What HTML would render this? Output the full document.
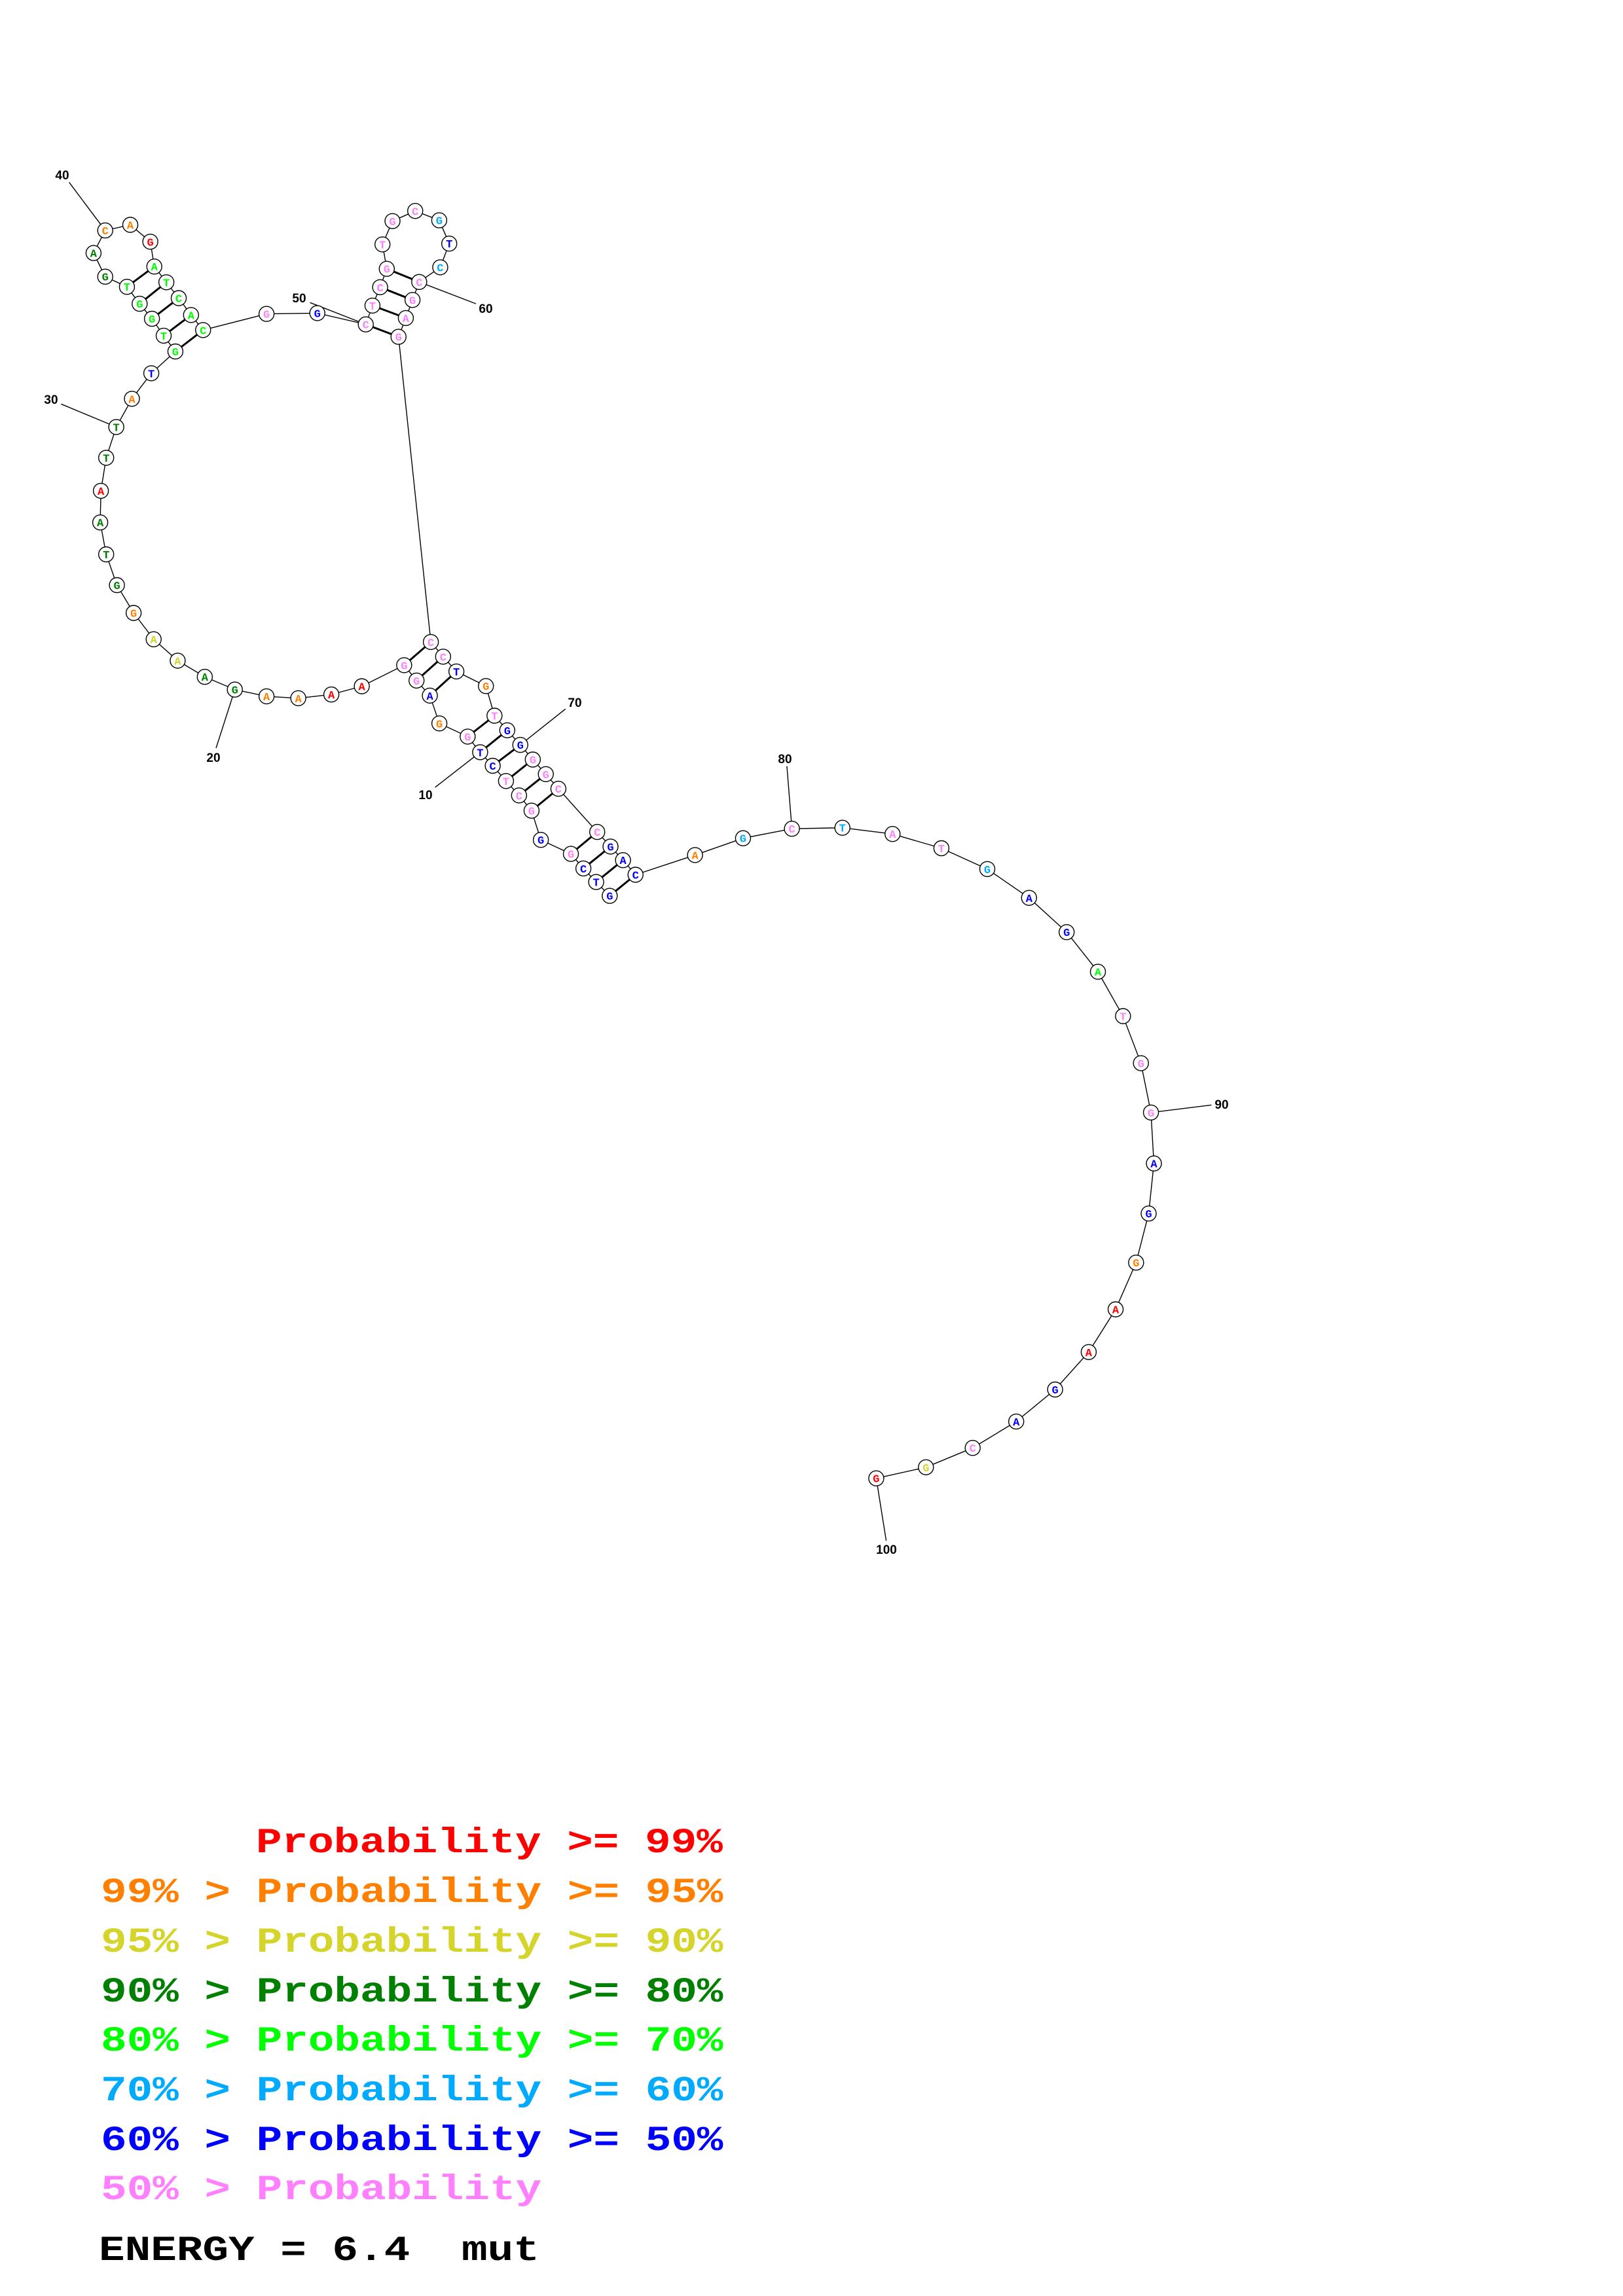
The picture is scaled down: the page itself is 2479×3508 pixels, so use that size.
<!DOCTYPE html>
<html><head><meta charset="utf-8"><style>
html,body{margin:0;padding:0;background:#fff;}
svg{display:block;}
.n{font-family:"Liberation Mono",monospace;font-weight:bold;font-size:17px;text-anchor:middle;}
.l{font-family:"Liberation Sans",sans-serif;font-weight:bold;font-size:19px;text-anchor:middle;fill:#000;}
.g{font-family:"Liberation Mono",monospace;font-weight:bold;font-size:66px;}
.g text{white-space:pre;}
</style></head><body>
<svg width="2479" height="3508" viewBox="0 0 2479 3508" xmlns="http://www.w3.org/2000/svg">
<rect width="2479" height="3508" fill="#fff"/>
<polyline fill="none" stroke="#000" stroke-width="1.4" points="931.3,1368.7 910.6,1347.6 891.1,1326.9 872,1304.6 826.1,1283.2 811.9,1238.6 792.8,1215.3 772.9,1193.3 752.6,1170 733.4,1149.3 714.3,1125.4 671.1,1105.3 656.6,1062.8 636.2,1039.8 617.3,1016.3 552.6,1048.5 506.1,1061.1 455.6,1066.8 407.1,1063.9 358.7,1053.6 312.8,1034.1 271.4,1009.4 234.7,976.7 204.1,936.5 178.6,894 162.2,847 153.1,798.2 154.1,749.9 162.2,699.4 177.6,652.4 201.5,609.3 231.1,570.3 267.9,537 250,512.9 232.1,487 213.3,464.1 193.9,438.2 160.7,422.7 142.9,386.6 160.7,352.1 199,343.5 229.6,369.3 235.7,407.2 254.1,431.3 273,455.5 291.8,481.3 310.2,504.3 407.1,479.6 484.7,478.4 558.7,495.6 568.9,466.9 580.6,438.8 590.8,410.7 584.2,373.4 599.5,337.8 634.2,322.3 670.9,336.6 686.2,372.2 672.4,408.4 640.3,430.8 630.1,458.3 619.9,485.9 608.7,514.6 658.1,980.9 676.8,1003.3 697.1,1025.9 742.2,1048.2 755.3,1093.5 774.8,1115.8 794.7,1138.1 813.8,1160.5 833.7,1182.8 852.9,1205.1 912.2,1271.1 932.5,1293.4 951.6,1314.2 970.7,1336.5 1061.6,1306.4 1134.9,1280.7 1209.6,1266.2 1286.7,1264.7 1363.3,1274.2 1437.9,1296 1508,1327.8 1571.8,1371.8 1629.2,1424.2 1677,1484.7 1715.3,1552.5 1742.7,1624.4 1758,1699.8 1762.5,1777.6 1754.5,1854.1 1735.3,1929.1 1704,2000.5 1662.9,2065.8 1611.6,2123 1552.2,2171.9 1485.7,2212.2 1414.3,2241.8 1338.4,2258.7"/>
<g stroke="#000" stroke-width="3">
<line x1="931.3" y1="1368.7" x2="970.7" y2="1336.5"/>
<line x1="910.6" y1="1347.6" x2="951.6" y2="1314.2"/>
<line x1="891.1" y1="1326.9" x2="932.5" y2="1293.4"/>
<line x1="872" y1="1304.6" x2="912.2" y2="1271.1"/>
<line x1="811.9" y1="1238.6" x2="852.9" y2="1205.1"/>
<line x1="792.8" y1="1215.3" x2="833.7" y2="1182.8"/>
<line x1="772.9" y1="1193.3" x2="813.8" y2="1160.5"/>
<line x1="752.6" y1="1170" x2="794.7" y2="1138.1"/>
<line x1="733.4" y1="1149.3" x2="774.8" y2="1115.8"/>
<line x1="714.3" y1="1125.4" x2="755.3" y2="1093.5"/>
<line x1="656.6" y1="1062.8" x2="697.1" y2="1025.9"/>
<line x1="636.2" y1="1039.8" x2="676.8" y2="1003.3"/>
<line x1="617.3" y1="1016.3" x2="658.1" y2="980.9"/>
<line x1="267.9" y1="537" x2="310.2" y2="504.3"/>
<line x1="250" y1="512.9" x2="291.8" y2="481.3"/>
<line x1="232.1" y1="487" x2="273" y2="455.5"/>
<line x1="213.3" y1="464.1" x2="254.1" y2="431.3"/>
<line x1="193.9" y1="438.2" x2="235.7" y2="407.2"/>
<line x1="558.7" y1="495.6" x2="608.7" y2="514.6"/>
<line x1="568.9" y1="466.9" x2="619.9" y2="485.9"/>
<line x1="580.6" y1="438.8" x2="630.1" y2="458.3"/>
<line x1="590.8" y1="410.7" x2="640.3" y2="430.8"/>
</g>
<g stroke="#000" stroke-width="1.4">
<line x1="733.4" y1="1149.3" x2="664.6" y2="1202.9"/>
<line x1="358.7" y1="1053.6" x2="330" y2="1143"/>
<line x1="177.6" y1="652.4" x2="93.4" y2="617.3"/>
<line x1="160.7" y1="352.1" x2="105.6" y2="278.6"/>
<line x1="558.7" y1="495.6" x2="473.5" y2="462.3"/>
<line x1="640.3" y1="430.8" x2="727" y2="464.1"/>
<line x1="794.7" y1="1138.1" x2="863.6" y2="1083.3"/>
<line x1="1209.6" y1="1266.2" x2="1201.9" y2="1170.5"/>
<line x1="1758" y1="1699.8" x2="1850.4" y2="1688.3"/>
<line x1="1338.4" y1="2258.7" x2="1353.6" y2="2354"/>
</g>
<g class="l">
<text x="650" y="1221">10</text>
<text x="326" y="1164">20</text>
<text x="78" y="617">30</text>
<text x="95" y="274">40</text>
<text x="457" y="462">50</text>
<text x="742" y="478">60</text>
<text x="878" y="1080">70</text>
<text x="1199" y="1166">80</text>
<text x="1866" y="1694">90</text>
<text x="1354" y="2374">100</text>
</g>
<g stroke="#000" stroke-width="1.4" fill="#fff">
<circle cx="931.3" cy="1368.7" r="11.5"/><circle cx="910.6" cy="1347.6" r="11.5"/><circle cx="891.1" cy="1326.9" r="11.5"/><circle cx="872" cy="1304.6" r="11.5"/><circle cx="826.1" cy="1283.2" r="11.5"/><circle cx="811.9" cy="1238.6" r="11.5"/><circle cx="792.8" cy="1215.3" r="11.5"/><circle cx="772.9" cy="1193.3" r="11.5"/><circle cx="752.6" cy="1170" r="11.5"/><circle cx="733.4" cy="1149.3" r="11.5"/>
<circle cx="714.3" cy="1125.4" r="11.5"/><circle cx="671.1" cy="1105.3" r="11.5"/><circle cx="656.6" cy="1062.8" r="11.5"/><circle cx="636.2" cy="1039.8" r="11.5"/><circle cx="617.3" cy="1016.3" r="11.5"/><circle cx="552.6" cy="1048.5" r="11.5"/><circle cx="506.1" cy="1061.1" r="11.5"/><circle cx="455.6" cy="1066.8" r="11.5"/><circle cx="407.1" cy="1063.9" r="11.5"/><circle cx="358.7" cy="1053.6" r="11.5"/>
<circle cx="312.8" cy="1034.1" r="11.5"/><circle cx="271.4" cy="1009.4" r="11.5"/><circle cx="234.7" cy="976.7" r="11.5"/><circle cx="204.1" cy="936.5" r="11.5"/><circle cx="178.6" cy="894" r="11.5"/><circle cx="162.2" cy="847" r="11.5"/><circle cx="153.1" cy="798.2" r="11.5"/><circle cx="154.1" cy="749.9" r="11.5"/><circle cx="162.2" cy="699.4" r="11.5"/><circle cx="177.6" cy="652.4" r="11.5"/>
<circle cx="201.5" cy="609.3" r="11.5"/><circle cx="231.1" cy="570.3" r="11.5"/><circle cx="267.9" cy="537" r="11.5"/><circle cx="250" cy="512.9" r="11.5"/><circle cx="232.1" cy="487" r="11.5"/><circle cx="213.3" cy="464.1" r="11.5"/><circle cx="193.9" cy="438.2" r="11.5"/><circle cx="160.7" cy="422.7" r="11.5"/><circle cx="142.9" cy="386.6" r="11.5"/><circle cx="160.7" cy="352.1" r="11.5"/>
<circle cx="199" cy="343.5" r="11.5"/><circle cx="229.6" cy="369.3" r="11.5"/><circle cx="235.7" cy="407.2" r="11.5"/><circle cx="254.1" cy="431.3" r="11.5"/><circle cx="273" cy="455.5" r="11.5"/><circle cx="291.8" cy="481.3" r="11.5"/><circle cx="310.2" cy="504.3" r="11.5"/><circle cx="407.1" cy="479.6" r="11.5"/><circle cx="484.7" cy="478.4" r="11.5"/><circle cx="558.7" cy="495.6" r="11.5"/>
<circle cx="568.9" cy="466.9" r="11.5"/><circle cx="580.6" cy="438.8" r="11.5"/><circle cx="590.8" cy="410.7" r="11.5"/><circle cx="584.2" cy="373.4" r="11.5"/><circle cx="599.5" cy="337.8" r="11.5"/><circle cx="634.2" cy="322.3" r="11.5"/><circle cx="670.9" cy="336.6" r="11.5"/><circle cx="686.2" cy="372.2" r="11.5"/><circle cx="672.4" cy="408.4" r="11.5"/><circle cx="640.3" cy="430.8" r="11.5"/>
<circle cx="630.1" cy="458.3" r="11.5"/><circle cx="619.9" cy="485.9" r="11.5"/><circle cx="608.7" cy="514.6" r="11.5"/><circle cx="658.1" cy="980.9" r="11.5"/><circle cx="676.8" cy="1003.3" r="11.5"/><circle cx="697.1" cy="1025.9" r="11.5"/><circle cx="742.2" cy="1048.2" r="11.5"/><circle cx="755.3" cy="1093.5" r="11.5"/><circle cx="774.8" cy="1115.8" r="11.5"/><circle cx="794.7" cy="1138.1" r="11.5"/>
<circle cx="813.8" cy="1160.5" r="11.5"/><circle cx="833.7" cy="1182.8" r="11.5"/><circle cx="852.9" cy="1205.1" r="11.5"/><circle cx="912.2" cy="1271.1" r="11.5"/><circle cx="932.5" cy="1293.4" r="11.5"/><circle cx="951.6" cy="1314.2" r="11.5"/><circle cx="970.7" cy="1336.5" r="11.5"/><circle cx="1061.6" cy="1306.4" r="11.5"/><circle cx="1134.9" cy="1280.7" r="11.5"/><circle cx="1209.6" cy="1266.2" r="11.5"/>
<circle cx="1286.7" cy="1264.7" r="11.5"/><circle cx="1363.3" cy="1274.2" r="11.5"/><circle cx="1437.9" cy="1296" r="11.5"/><circle cx="1508" cy="1327.8" r="11.5"/><circle cx="1571.8" cy="1371.8" r="11.5"/><circle cx="1629.2" cy="1424.2" r="11.5"/><circle cx="1677" cy="1484.7" r="11.5"/><circle cx="1715.3" cy="1552.5" r="11.5"/><circle cx="1742.7" cy="1624.4" r="11.5"/><circle cx="1758" cy="1699.8" r="11.5"/>
<circle cx="1762.5" cy="1777.6" r="11.5"/><circle cx="1754.5" cy="1854.1" r="11.5"/><circle cx="1735.3" cy="1929.1" r="11.5"/><circle cx="1704" cy="2000.5" r="11.5"/><circle cx="1662.9" cy="2065.8" r="11.5"/><circle cx="1611.6" cy="2123" r="11.5"/><circle cx="1552.2" cy="2171.9" r="11.5"/><circle cx="1485.7" cy="2212.2" r="11.5"/><circle cx="1414.3" cy="2241.8" r="11.5"/><circle cx="1338.4" cy="2258.7" r="11.5"/>
</g>
<g class="n">
<text x="931.3" y="1374.7" fill="#0000ff">G</text><text x="910.6" y="1353.6" fill="#0000ff">T</text><text x="891.1" y="1332.9" fill="#0000ff">C</text><text x="872" y="1310.6" fill="#ff80ff">G</text><text x="826.1" y="1289.2" fill="#0000ff">G</text><text x="811.9" y="1244.6" fill="#ff80ff">G</text><text x="792.8" y="1221.3" fill="#ff80ff">C</text><text x="772.9" y="1199.3" fill="#ff80ff">T</text><text x="752.6" y="1176" fill="#0000ff">C</text><text x="733.4" y="1155.3" fill="#0000ff">T</text>
<text x="714.3" y="1131.4" fill="#ff80ff">G</text><text x="671.1" y="1111.3" fill="#ff8000">G</text><text x="656.6" y="1068.8" fill="#0000ff">A</text><text x="636.2" y="1045.8" fill="#ff80ff">G</text><text x="617.3" y="1022.3" fill="#ff80ff">G</text><text x="552.6" y="1054.5" fill="#ff0000">A</text><text x="506.1" y="1067.1" fill="#ff0000">A</text><text x="455.6" y="1072.8" fill="#ff8000">A</text><text x="407.1" y="1069.9" fill="#ff8000">A</text><text x="358.7" y="1059.6" fill="#008000">G</text>
<text x="312.8" y="1040.1" fill="#008000">A</text><text x="271.4" y="1015.4" fill="#d4d42a">A</text><text x="234.7" y="982.7" fill="#d4d42a">A</text><text x="204.1" y="942.5" fill="#ff8000">G</text><text x="178.6" y="900" fill="#008000">G</text><text x="162.2" y="853" fill="#008000">T</text><text x="153.1" y="804.2" fill="#008000">A</text><text x="154.1" y="755.9" fill="#ff0000">A</text><text x="162.2" y="705.4" fill="#008000">T</text><text x="177.6" y="658.4" fill="#008000">T</text>
<text x="201.5" y="615.3" fill="#ff8000">A</text><text x="231.1" y="576.3" fill="#0000ff">T</text><text x="267.9" y="543" fill="#00ff00">G</text><text x="250" y="518.9" fill="#00ff00">T</text><text x="232.1" y="493" fill="#00ff00">G</text><text x="213.3" y="470.1" fill="#00ff00">G</text><text x="193.9" y="444.2" fill="#00ff00">T</text><text x="160.7" y="428.7" fill="#008000">G</text><text x="142.9" y="392.6" fill="#008000">A</text><text x="160.7" y="358.1" fill="#ff8000">C</text>
<text x="199" y="349.5" fill="#ff8000">A</text><text x="229.6" y="375.3" fill="#ff0000">G</text><text x="235.7" y="413.2" fill="#00ff00">A</text><text x="254.1" y="437.3" fill="#00ff00">T</text><text x="273" y="461.5" fill="#00ff00">C</text><text x="291.8" y="487.3" fill="#00ff00">A</text><text x="310.2" y="510.3" fill="#00ff00">C</text><text x="407.1" y="485.6" fill="#ff80ff">G</text><text x="484.7" y="484.4" fill="#0000ff">G</text><text x="558.7" y="501.6" fill="#ff80ff">C</text>
<text x="568.9" y="472.9" fill="#ff80ff">T</text><text x="580.6" y="444.8" fill="#ff80ff">C</text><text x="590.8" y="416.7" fill="#ff80ff">G</text><text x="584.2" y="379.4" fill="#ff80ff">T</text><text x="599.5" y="343.8" fill="#ff80ff">G</text><text x="634.2" y="328.3" fill="#ff80ff">C</text><text x="670.9" y="342.6" fill="#00aaff">G</text><text x="686.2" y="378.2" fill="#0000ff">T</text><text x="672.4" y="414.4" fill="#00aaff">C</text><text x="640.3" y="436.8" fill="#ff80ff">C</text>
<text x="630.1" y="464.3" fill="#ff80ff">G</text><text x="619.9" y="491.9" fill="#ff80ff">A</text><text x="608.7" y="520.6" fill="#ff80ff">G</text><text x="658.1" y="986.9" fill="#ff80ff">C</text><text x="676.8" y="1009.3" fill="#ff80ff">C</text><text x="697.1" y="1031.9" fill="#0000ff">T</text><text x="742.2" y="1054.2" fill="#ff8000">G</text><text x="755.3" y="1099.5" fill="#ff80ff">T</text><text x="774.8" y="1121.8" fill="#0000ff">G</text><text x="794.7" y="1144.1" fill="#0000ff">G</text>
<text x="813.8" y="1166.5" fill="#ff80ff">G</text><text x="833.7" y="1188.8" fill="#ff80ff">G</text><text x="852.9" y="1211.1" fill="#ff80ff">C</text><text x="912.2" y="1277.1" fill="#ff80ff">C</text><text x="932.5" y="1299.4" fill="#0000ff">G</text><text x="951.6" y="1320.2" fill="#0000ff">A</text><text x="970.7" y="1342.5" fill="#0000ff">C</text><text x="1061.6" y="1312.4" fill="#ff8000">A</text><text x="1134.9" y="1286.7" fill="#00aaff">G</text><text x="1209.6" y="1272.2" fill="#ff80ff">C</text>
<text x="1286.7" y="1270.7" fill="#00aaff">T</text><text x="1363.3" y="1280.2" fill="#ff80ff">A</text><text x="1437.9" y="1302" fill="#ff80ff">T</text><text x="1508" y="1333.8" fill="#00aaff">G</text><text x="1571.8" y="1377.8" fill="#0000ff">A</text><text x="1629.2" y="1430.2" fill="#0000ff">G</text><text x="1677" y="1490.7" fill="#00ff00">A</text><text x="1715.3" y="1558.5" fill="#ff80ff">T</text><text x="1742.7" y="1630.4" fill="#ff80ff">G</text><text x="1758" y="1705.8" fill="#ff80ff">G</text>
<text x="1762.5" y="1783.6" fill="#0000ff">A</text><text x="1754.5" y="1860.1" fill="#0000ff">G</text><text x="1735.3" y="1935.1" fill="#ff8000">G</text><text x="1704" y="2006.5" fill="#ff0000">A</text><text x="1662.9" y="2071.8" fill="#ff0000">A</text><text x="1611.6" y="2129" fill="#0000ff">G</text><text x="1552.2" y="2177.9" fill="#0000ff">A</text><text x="1485.7" y="2218.2" fill="#ff80ff">C</text><text x="1414.3" y="2247.8" fill="#d4d42a">G</text><text x="1338.4" y="2264.7" fill="#ff0000">G</text>
</g>
<g class="g">
<text transform="translate(391,2830) scale(1,0.82)" fill="#ff0000">Probability &gt;= 99%</text>
<text transform="translate(154,2906) scale(1,0.82)" fill="#ff8000">99% &gt; Probability &gt;= 95%</text>
<text transform="translate(154,2982) scale(1,0.82)" fill="#d4d42a">95% &gt; Probability &gt;= 90%</text>
<text transform="translate(154,3058) scale(1,0.82)" fill="#008000">90% &gt; Probability &gt;= 80%</text>
<text transform="translate(154,3133) scale(1,0.82)" fill="#00ff00">80% &gt; Probability &gt;= 70%</text>
<text transform="translate(154,3209) scale(1,0.82)" fill="#00aaff">70% &gt; Probability &gt;= 60%</text>
<text transform="translate(154,3285) scale(1,0.82)" fill="#0000ff">60% &gt; Probability &gt;= 50%</text>
<text transform="translate(154,3360) scale(1,0.82)" fill="#ff80ff">50% &gt; Probability</text>
<text transform="translate(151,3453) scale(1,0.82)" fill="#000">ENERGY = 6.4</text>
<text transform="translate(705,3453) scale(1,0.82)" fill="#000">mut</text>
</g>
</svg>
</body></html>
